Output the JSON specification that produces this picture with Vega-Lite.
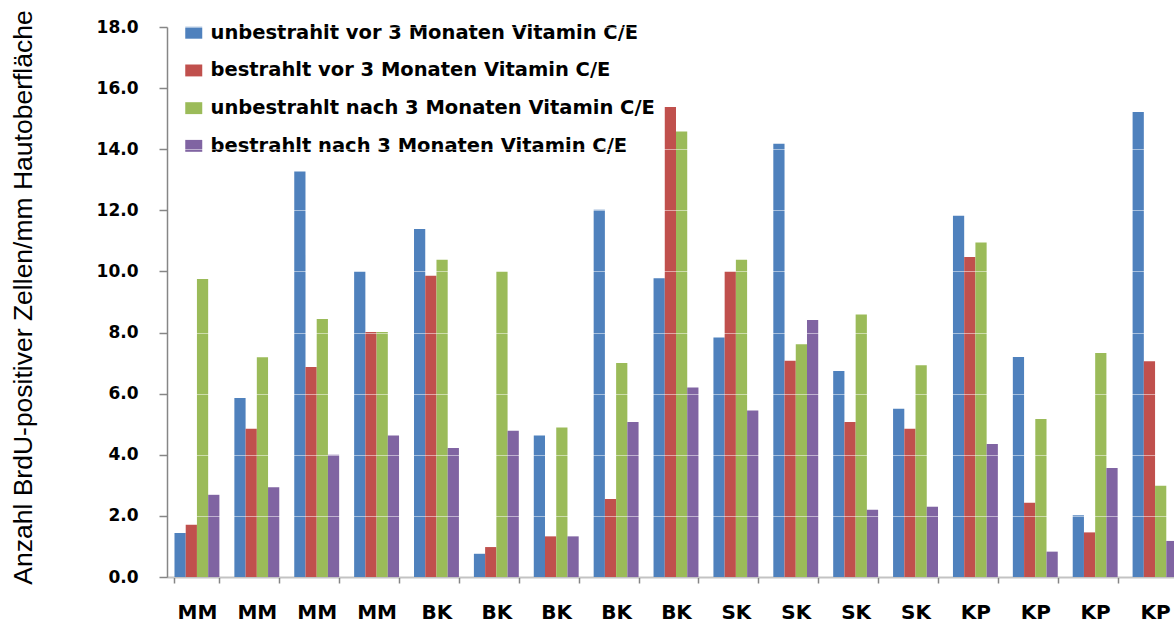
{
  "$schema": "https://vega.github.io/schema/vega-lite/v6.json",
  "width": 1007,
  "height": 550,
  "autosize": {"type": "none"},
  "padding": {"left": 167, "top": 27, "right": 0, "bottom": 53},
  "background": "white",
  "config": {"view": {"stroke": null}},
  "data": {"values": [
    {"g": "MM 1", "s": "unbestrahlt vor 3 Monaten Vitamin C/E", "v": 1.44},
    {"g": "MM 1", "s": "bestrahlt vor 3 Monaten Vitamin C/E", "v": 1.71},
    {"g": "MM 1", "s": "unbestrahlt nach 3 Monaten Vitamin C/E", "v": 9.75},
    {"g": "MM 1", "s": "bestrahlt nach 3 Monaten Vitamin C/E", "v": 2.69},
    {"g": "MM 2", "s": "unbestrahlt vor 3 Monaten Vitamin C/E", "v": 5.86},
    {"g": "MM 2", "s": "bestrahlt vor 3 Monaten Vitamin C/E", "v": 4.85},
    {"g": "MM 2", "s": "unbestrahlt nach 3 Monaten Vitamin C/E", "v": 7.19},
    {"g": "MM 2", "s": "bestrahlt nach 3 Monaten Vitamin C/E", "v": 2.94},
    {"g": "MM 3", "s": "unbestrahlt vor 3 Monaten Vitamin C/E", "v": 13.27},
    {"g": "MM 3", "s": "bestrahlt vor 3 Monaten Vitamin C/E", "v": 6.87},
    {"g": "MM 3", "s": "unbestrahlt nach 3 Monaten Vitamin C/E", "v": 8.44},
    {"g": "MM 3", "s": "bestrahlt nach 3 Monaten Vitamin C/E", "v": 4.0},
    {"g": "MM 4", "s": "unbestrahlt vor 3 Monaten Vitamin C/E", "v": 10.0},
    {"g": "MM 4", "s": "bestrahlt vor 3 Monaten Vitamin C/E", "v": 8.02},
    {"g": "MM 4", "s": "unbestrahlt nach 3 Monaten Vitamin C/E", "v": 8.02},
    {"g": "MM 4", "s": "bestrahlt nach 3 Monaten Vitamin C/E", "v": 4.63},
    {"g": "BK 1", "s": "unbestrahlt vor 3 Monaten Vitamin C/E", "v": 11.39},
    {"g": "BK 1", "s": "bestrahlt vor 3 Monaten Vitamin C/E", "v": 9.86},
    {"g": "BK 1", "s": "unbestrahlt nach 3 Monaten Vitamin C/E", "v": 10.38},
    {"g": "BK 1", "s": "bestrahlt nach 3 Monaten Vitamin C/E", "v": 4.22},
    {"g": "BK 2", "s": "unbestrahlt vor 3 Monaten Vitamin C/E", "v": 0.76},
    {"g": "BK 2", "s": "bestrahlt vor 3 Monaten Vitamin C/E", "v": 0.98},
    {"g": "BK 2", "s": "unbestrahlt nach 3 Monaten Vitamin C/E", "v": 10.0},
    {"g": "BK 2", "s": "bestrahlt nach 3 Monaten Vitamin C/E", "v": 4.79},
    {"g": "BK 3", "s": "unbestrahlt vor 3 Monaten Vitamin C/E", "v": 4.63},
    {"g": "BK 3", "s": "bestrahlt vor 3 Monaten Vitamin C/E", "v": 1.33},
    {"g": "BK 3", "s": "unbestrahlt nach 3 Monaten Vitamin C/E", "v": 4.89},
    {"g": "BK 3", "s": "bestrahlt nach 3 Monaten Vitamin C/E", "v": 1.33},
    {"g": "BK 4", "s": "unbestrahlt vor 3 Monaten Vitamin C/E", "v": 12.02},
    {"g": "BK 4", "s": "bestrahlt vor 3 Monaten Vitamin C/E", "v": 2.55},
    {"g": "BK 4", "s": "unbestrahlt nach 3 Monaten Vitamin C/E", "v": 7.0},
    {"g": "BK 4", "s": "bestrahlt nach 3 Monaten Vitamin C/E", "v": 5.07},
    {"g": "BK 5", "s": "unbestrahlt vor 3 Monaten Vitamin C/E", "v": 9.78},
    {"g": "BK 5", "s": "bestrahlt vor 3 Monaten Vitamin C/E", "v": 15.38},
    {"g": "BK 5", "s": "unbestrahlt nach 3 Monaten Vitamin C/E", "v": 14.58},
    {"g": "BK 5", "s": "bestrahlt nach 3 Monaten Vitamin C/E", "v": 6.2},
    {"g": "SK 1", "s": "unbestrahlt vor 3 Monaten Vitamin C/E", "v": 7.84},
    {"g": "SK 1", "s": "bestrahlt vor 3 Monaten Vitamin C/E", "v": 10.0},
    {"g": "SK 1", "s": "unbestrahlt nach 3 Monaten Vitamin C/E", "v": 10.38},
    {"g": "SK 1", "s": "bestrahlt nach 3 Monaten Vitamin C/E", "v": 5.45},
    {"g": "SK 2", "s": "unbestrahlt vor 3 Monaten Vitamin C/E", "v": 14.18},
    {"g": "SK 2", "s": "bestrahlt vor 3 Monaten Vitamin C/E", "v": 7.08},
    {"g": "SK 2", "s": "unbestrahlt nach 3 Monaten Vitamin C/E", "v": 7.62},
    {"g": "SK 2", "s": "bestrahlt nach 3 Monaten Vitamin C/E", "v": 8.41},
    {"g": "SK 3", "s": "unbestrahlt vor 3 Monaten Vitamin C/E", "v": 6.74},
    {"g": "SK 3", "s": "bestrahlt vor 3 Monaten Vitamin C/E", "v": 5.07},
    {"g": "SK 3", "s": "unbestrahlt nach 3 Monaten Vitamin C/E", "v": 8.59},
    {"g": "SK 3", "s": "bestrahlt nach 3 Monaten Vitamin C/E", "v": 2.2},
    {"g": "SK 4", "s": "unbestrahlt vor 3 Monaten Vitamin C/E", "v": 5.51},
    {"g": "SK 4", "s": "bestrahlt vor 3 Monaten Vitamin C/E", "v": 4.85},
    {"g": "SK 4", "s": "unbestrahlt nach 3 Monaten Vitamin C/E", "v": 6.93},
    {"g": "SK 4", "s": "bestrahlt nach 3 Monaten Vitamin C/E", "v": 2.3},
    {"g": "KP 1", "s": "unbestrahlt vor 3 Monaten Vitamin C/E", "v": 11.82},
    {"g": "KP 1", "s": "bestrahlt vor 3 Monaten Vitamin C/E", "v": 10.47},
    {"g": "KP 1", "s": "unbestrahlt nach 3 Monaten Vitamin C/E", "v": 10.95},
    {"g": "KP 1", "s": "bestrahlt nach 3 Monaten Vitamin C/E", "v": 4.35},
    {"g": "KP 2", "s": "unbestrahlt vor 3 Monaten Vitamin C/E", "v": 7.2},
    {"g": "KP 2", "s": "bestrahlt vor 3 Monaten Vitamin C/E", "v": 2.43},
    {"g": "KP 2", "s": "unbestrahlt nach 3 Monaten Vitamin C/E", "v": 5.17},
    {"g": "KP 2", "s": "bestrahlt nach 3 Monaten Vitamin C/E", "v": 0.83},
    {"g": "KP 3", "s": "unbestrahlt vor 3 Monaten Vitamin C/E", "v": 2.02},
    {"g": "KP 3", "s": "bestrahlt vor 3 Monaten Vitamin C/E", "v": 1.46},
    {"g": "KP 3", "s": "unbestrahlt nach 3 Monaten Vitamin C/E", "v": 7.33},
    {"g": "KP 3", "s": "bestrahlt nach 3 Monaten Vitamin C/E", "v": 3.57},
    {"g": "KP 4", "s": "unbestrahlt vor 3 Monaten Vitamin C/E", "v": 15.22},
    {"g": "KP 4", "s": "bestrahlt vor 3 Monaten Vitamin C/E", "v": 7.06},
    {"g": "KP 4", "s": "unbestrahlt nach 3 Monaten Vitamin C/E", "v": 2.99},
    {"g": "KP 4", "s": "bestrahlt nach 3 Monaten Vitamin C/E", "v": 1.18}
  ]},
  "mark": {"type": "bar", "clip": true},
  "encoding": {
    "x": {
      "field": "g", "type": "nominal", "sort": null,
      "scale": {"range": [0, 1018], "paddingInner": 0.25, "paddingOuter": 0.125},
      "axis": {
        "title": null, "labelAngle": 0, "labelExpr": "slice(datum.label, 0, 2)",
        "tickBand": "extent", "domainColor": "#868686", "domainWidth": 1.5,
        "tickColor": "#868686", "tickWidth": 1.5, "tickSize": 6,
        "labelFont": "DejaVu Sans", "labelFontSize": 20, "labelFontWeight": "bold", "labelColor": "#000000",
        "labelPadding": 19, "grid": false
      }
    },
    "xOffset": {
      "field": "s", "type": "nominal",
      "sort": ["unbestrahlt vor 3 Monaten Vitamin C/E", "bestrahlt vor 3 Monaten Vitamin C/E", "unbestrahlt nach 3 Monaten Vitamin C/E", "bestrahlt nach 3 Monaten Vitamin C/E"]
    },
    "y": {
      "field": "v", "type": "quantitative",
      "scale": {"domain": [0, 18], "nice": false},
      "axis": {
        "title": "Anzahl BrdU-positiver Zellen/mm Hautoberfläche",
        "titleFont": "Liberation Sans", "titleFontSize": 26.5, "titleFontWeight": "normal",
        "titleColor": "#000000", "titleAngle": -90, "titleX": -144, "titleY": 270,
        "titleAlign": "center", "titleBaseline": "middle",
        "values": [0, 2, 4, 6, 8, 10, 12, 14, 16, 18], "format": ".1f",
        "labelFont": "DejaVu Sans", "labelFontSize": 17, "labelFontWeight": "bold", "labelColor": "#000000",
        "labelPadding": 21, "tickSize": 8, "tickColor": "#868686", "tickWidth": 1.5,
        "domainColor": "#868686", "domainWidth": 1.5,
        "grid": true, "gridColor": "#ffffff", "gridOpacity": 0.5, "zindex": 1
      }
    },
    "color": {
      "field": "s", "type": "nominal",
      "scale": {
        "domain": ["unbestrahlt vor 3 Monaten Vitamin C/E", "bestrahlt vor 3 Monaten Vitamin C/E", "unbestrahlt nach 3 Monaten Vitamin C/E", "bestrahlt nach 3 Monaten Vitamin C/E"],
        "range": ["#4F81BD", "#C0504D", "#9BBB59", "#8064A2"]
      },
      "legend": {
        "title": null, "orient": "none", "legendX": 17, "legendY": -4, "padding": 0,
        "symbolType": "M-1,-0.7H1V0.7H-1Z", "symbolSize": 289, "symbolStrokeWidth": 0, "symbolOpacity": 1,
        "labelFont": "DejaVu Sans", "labelFontSize": 19.5, "labelFontWeight": "bold", "labelColor": "#000000", "labelOffset": 7,
        "labelLimit": 0, "rowPadding": 16.7
      }
    }
  }
}
